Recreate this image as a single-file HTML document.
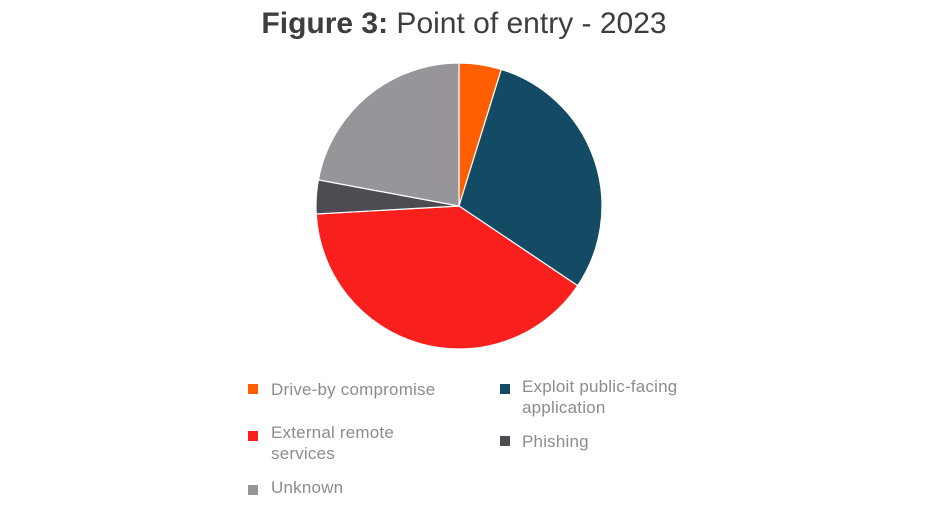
<!DOCTYPE html>
<html><head><style>
body{margin:0;width:928px;height:516px;background:#fff;font-family:"Liberation Sans",sans-serif;position:relative;overflow:hidden}
.t{position:absolute;top:7px;left:0;width:928px;text-align:center;font-size:30px;color:#3d3d42}
.l{position:absolute;font-size:17px;color:#8c8b8f;line-height:21px;letter-spacing:0.2px}
.s{position:absolute;width:10px;height:10px}
</style></head><body>
<div class="t"><b>Figure 3:</b> Point of entry - 2023</div>
<svg width="928" height="516" style="position:absolute;left:0;top:0">
<g stroke="#fff" stroke-width="1.2">
<path d="M459 206 L459 63 A143 143 0 0 1 501.3 69.4Z" fill="#FF5F00"/>
<path d="M459 206 L501.3 69.4 A143 143 0 0 1 577.7 285.7Z" fill="#134A64"/>
<path d="M459 206 L577.7 285.7 A143 143 0 0 1 316.2 214Z" fill="#F81F1C"/>
<path d="M459 206 L316.2 214 A143 143 0 0 1 318.4 179.9Z" fill="#4D4C52"/>
<path d="M459 206 L318.4 179.9 A143 143 0 0 1 459 63Z" fill="#979599"/>
</g></svg>
<div class="s" style="left:248px;top:384px;background:#FF5F00"></div>
<div class="l" style="left:271px;top:379px">Drive-by compromise</div>
<div class="s" style="left:500px;top:384px;background:#134A64"></div>
<div class="l" style="left:522px;top:376px">Exploit public-facing<br>application</div>
<div class="s" style="left:248px;top:431px;background:#F81F1C"></div>
<div class="l" style="left:271px;top:422px">External remote<br>services</div>
<div class="s" style="left:500px;top:436px;background:#4D4C52"></div>
<div class="l" style="left:522px;top:431px">Phishing</div>
<div class="s" style="left:248px;top:485px;background:#979599"></div>
<div class="l" style="left:271px;top:477px">Unknown</div>
</body></html>
